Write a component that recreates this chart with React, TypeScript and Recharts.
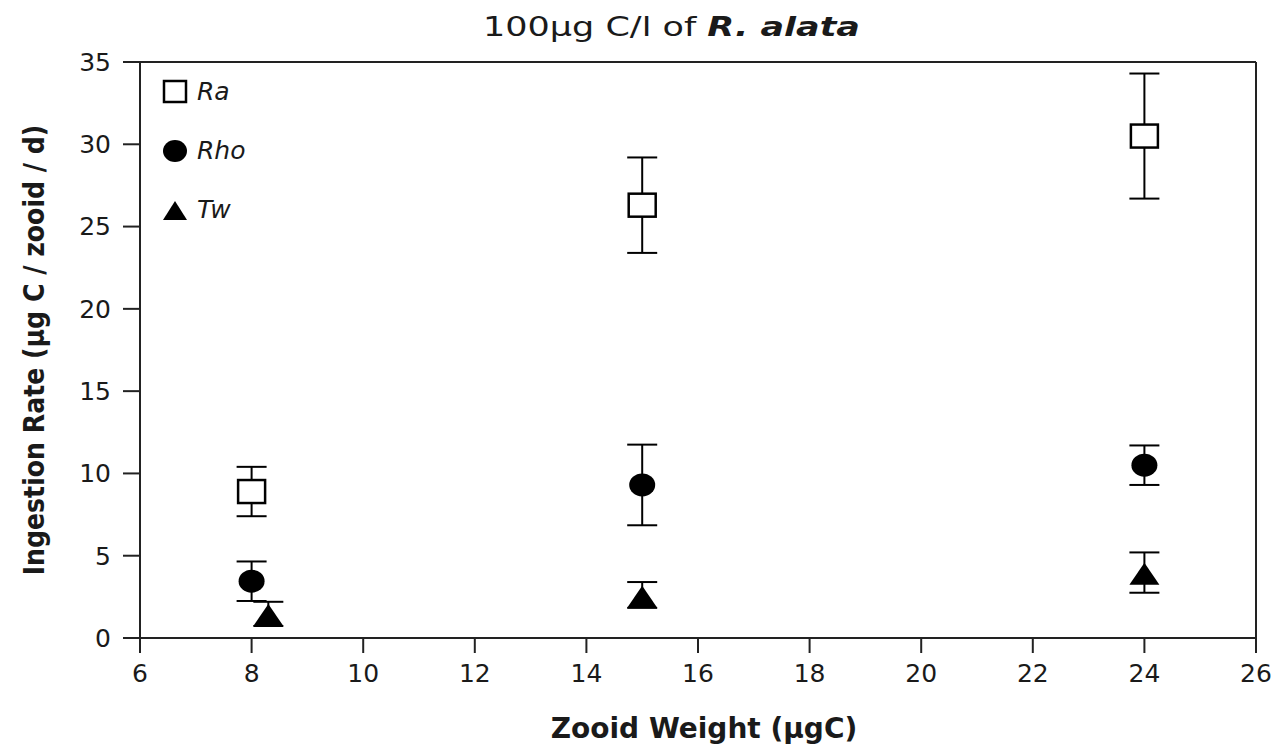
import React from 'react';
import { ScatterChart, Scatter, XAxis, YAxis, ErrorBar, ReferenceLine, Legend } from 'recharts';

// zooid weight (µgC) and ingestion rate (µg C / zooid / d), mean ± error
const raWeight = [8, 15, 24];
const raRate = [8.9, 26.3, 30.5];
const raErr = [1.5, 2.9, 3.8];

const rhoWeight = [8, 15, 24];
const rhoRate = [3.45, 9.3, 10.5];
const rhoErr = [1.2, 2.45, 1.2];

// Tw error bars are asymmetric: [below, above]
const twWeight = [8.3, 15, 24];
const twRate = [1.4, 2.5, 3.9];
const twErr = [[0.67, 0.8], [0.67, 0.9], [1.15, 1.3]];

const xTicks = [6, 8, 10, 12, 14, 16, 18, 20, 22, 24, 26];
const yTicks = [0, 5, 10, 15, 20, 25, 30, 35];

const toRows = (xs: number[], ys: number[], es: any[]) =>
  xs.map((x, i) => ({ x, y: ys[i], err: es[i] }));

const raData = toRows(raWeight, raRate, raErr);
const rhoData = toRows(rhoWeight, rhoRate, rhoErr);
const twData = toRows(twWeight, twRate, twErr);

const tickFont = { fontFamily: 'DejaVu Sans', fontSize: 25, fill: '#1a1a1a' };

const SquareShape = (props: any) => {
  const { cx, cy } = props;
  return <rect x={cx - 13.5} y={cy - 11.5} width={27} height={23} fill="#fff" stroke="#000" strokeWidth={2.5} />;
};

const CircleShape = (props: any) => {
  const { cx, cy } = props;
  return <ellipse cx={cx} cy={cy} rx={13} ry={11.5} fill="#000" />;
};

const TriangleShape = (props: any) => {
  const { cx, cy } = props;
  return <path d={`M${cx},${cy - 11} L${cx + 15},${cy + 11} L${cx - 15},${cy + 11} Z`} fill="#000" />;
};

const legendItems = [
  { name: 'Ra', icon: (
    <svg width={26} height={26}><rect x={2} y={2} width={22} height={21} fill="#fff" stroke="#000" strokeWidth={2.5} /></svg>
  ) },
  { name: 'Rho', icon: (
    <svg width={26} height={26}><ellipse cx={13} cy={13} rx={12} ry={11} fill="#000" /></svg>
  ) },
  { name: 'Tw', icon: (
    <svg width={26} height={26}><path d="M13,4 L25,23 L1,23 Z" fill="#000" /></svg>
  ) },
];

const LegendContent = () => (
  <div>
    {legendItems.map((it) => (
      <div key={it.name} style={{ display: 'flex', alignItems: 'center', height: 59 }}>
        {it.icon}
        <span style={{ fontFamily: 'DejaVu Sans', fontStyle: 'italic', fontSize: 25, marginLeft: 9, color: '#1a1a1a' }}>
          {it.name}
        </span>
      </div>
    ))}
  </div>
);

export default function App() {
  return (
    <div style={{ position: 'absolute', left: 0, top: 0, width: 1281, height: 753, background: '#fff' }}>
      <svg width={1281} height={50} style={{ position: 'absolute', left: 0, top: 0 }}>
        <text
          x={483}
          y={36}
          textLength={377}
          lengthAdjust="spacingAndGlyphs"
          fontFamily="DejaVu Sans"
          fontSize={27}
          fill="#1a1a1a"
        >
          100µg C/l of <tspan fontWeight="bold" fontStyle="italic">R. alata</tspan>
        </text>
      </svg>
      <ScatterChart
        width={1281}
        height={753}
        margin={{ top: 62, right: 25, left: 60, bottom: 55 }}
        style={{ position: 'absolute', left: 0, top: 0 }}
      >
        <XAxis
          type="number"
          dataKey="x"
          domain={[6, 26]}
          ticks={xTicks}
          allowDataOverflow
          stroke="#222"
          strokeWidth={2}
          tickSize={15}
          tick={tickFont}
          tickMargin={11}
          height={60}
          label={{
            value: 'Zooid Weight (µgC)',
            position: 'insideBottom',
            offset: -40,
            dx: 6,
            style: { fontFamily: 'DejaVu Sans', fontWeight: 'bold', fontSize: 28, fill: '#1a1a1a' },
          }}
        />
        <YAxis
          type="number"
          dataKey="y"
          domain={[0, 35]}
          ticks={yTicks}
          allowDataOverflow
          stroke="#222"
          strokeWidth={2}
          tickSize={17}
          tick={tickFont}
          tickMargin={12}
          width={80}
          label={{
            value: 'Ingestion Rate (µg C / zooid / d)',
            angle: -90,
            position: 'insideLeft',
            offset: -26,
            style: {
              textAnchor: 'middle',
              fontFamily: 'DejaVu Sans Condensed, DejaVu Sans',
              fontWeight: 'bold',
              fontSize: 28,
              fill: '#1a1a1a',
            },
          }}
        />
        <ReferenceLine y={35} stroke="#222" strokeWidth={2} />
        <ReferenceLine x={26} stroke="#222" strokeWidth={2} />
        <Legend
          layout="vertical"
          verticalAlign="middle"
          align="center"
          content={<LegendContent />}
          wrapperStyle={{ left: 162, top: 62, width: 120 }}
        />
        <Scatter name="Ra" data={raData} shape={<SquareShape />} isAnimationActive={false}>
          <ErrorBar dataKey="err" direction="y" width={15} stroke="#000" strokeWidth={2} />
        </Scatter>
        <Scatter name="Rho" data={rhoData} shape={<CircleShape />} isAnimationActive={false}>
          <ErrorBar dataKey="err" direction="y" width={15} stroke="#000" strokeWidth={2} />
        </Scatter>
        <Scatter name="Tw" data={twData} shape={<TriangleShape />} isAnimationActive={false}>
          <ErrorBar dataKey="err" direction="y" width={15} stroke="#000" strokeWidth={2} />
        </Scatter>
      </ScatterChart>
    </div>
  );
}
